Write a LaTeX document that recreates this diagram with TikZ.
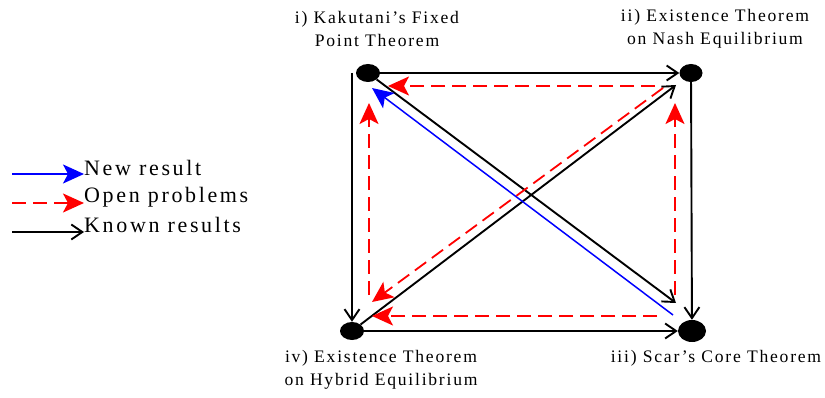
\documentclass[tikz,border=0pt]{standalone}
\usepackage{fontspec}
\setmainfont{Liberation Serif}[LetterSpace=10]
\newfontfamily\legfont{Liberation Serif}[LetterSpace=12]
\usepackage{tikz}
\usetikzlibrary{arrows.meta, positioning, shapes.geometric}

\begin{document}
\begin{tikzpicture}[x=1pt, y=-1pt,
  thm/.style={ellipse, fill=black, inner sep=0pt},
  lbl/.style={font=\fontsize{17.6}{23}\selectfont, align=center, inner sep=0pt},
  legtext/.style={font=\legfont\fontsize{22}{25}\selectfont, anchor=west, inner sep=0pt},
  known/.style={-{Straight Barb[length=11pt, width=15pt]}, line width=1.9pt, black},
  open/.style={-{Stealth[length=21pt, width=19pt, inset=5pt]}, line width=1.8pt,
               red, dash pattern=on 14pt off 7pt},
  newres/.style={-{Stealth[length=21pt, width=19pt, inset=5pt]}, line width=1.5pt, blue}
]
  \useasboundingbox (0,0) rectangle (825,398);

  \node[thm, minimum width=24pt, minimum height=18pt] (i)   at (368,73)  {};
  \node[thm, minimum width=23pt, minimum height=18pt] (ii)  at (691,73)  {};
  \node[thm, minimum width=28pt, minimum height=22pt] (iii) at (692,331) {};
  \node[thm, minimum width=24pt, minimum height=18pt] (iv)  at (352,331) {};

  \node[lbl] (i_l)   at (377,28.5)  {i) Kakutani's Fixed\\Point Theorem};
  \node[lbl] (ii_l)  at (715,28.5)  {ii) Existence Theorem\\on Nash Equilibrium};
  \node[lbl] (iii_l) at (716,358)   {iii) Scar's Core Theorem};
  \node[lbl] (iv_l)  at (381,369.5) {iv) Existence Theorem\\on Hybrid Equilibrium};

  % known results
  \draw[known] (i) -- (ii);
  \draw[known] (i.west -| iv) -- (iv);
  \draw[known] (ii) -- (iii);
  \draw[known] (iv) -- (iii);
  \draw[known] (i) -- ([shift={(-16,-28)}]iii.center);
  \draw[known] (iv) -- ([shift={(-15,12)}]ii.center);

  % new result
  \draw[newres] ([shift={(-19,-16)}]iii.center) -- ([shift={(4,15)}]i.center);

  % open problems
  \draw[open] ([shift={(-36,13)}]ii.center)  -- ([shift={(20,13)}]i.center);
  \draw[open] ([shift={(17,-36)}]iv.center)  -- ([shift={(1,30)}]i.center);
  \draw[open] ([shift={(-17,-36)}]iii.center) -- ([shift={(-16,30)}]ii.center);
  \draw[open] ([shift={(-35,-15)}]iii.center) -- ([shift={(20,-15)}]iv.center);
  \draw[open] ([shift={(-28,15)}]ii.center)  -- ([shift={(20,-29)}]iv.center);

  % legend
  \node[legtext] (new_t)   at (84,168) {New result};
  \node[legtext] (open_t)  at (84,197) {Open problems};
  \node[legtext] (known_t) at (84,225) {Known results};
  \coordinate (new_s)   at (12,174);
  \coordinate (open_s)  at (12,203);
  \coordinate (known_s) at (12,232);
  \draw[newres] (new_s)   -- (new_s -| new_t.west);
  \draw[open]   (open_s)  -- (open_s -| open_t.west);
  \draw[known]  (known_s) -- (known_s -| known_t.west);
\end{tikzpicture}
\end{document}
